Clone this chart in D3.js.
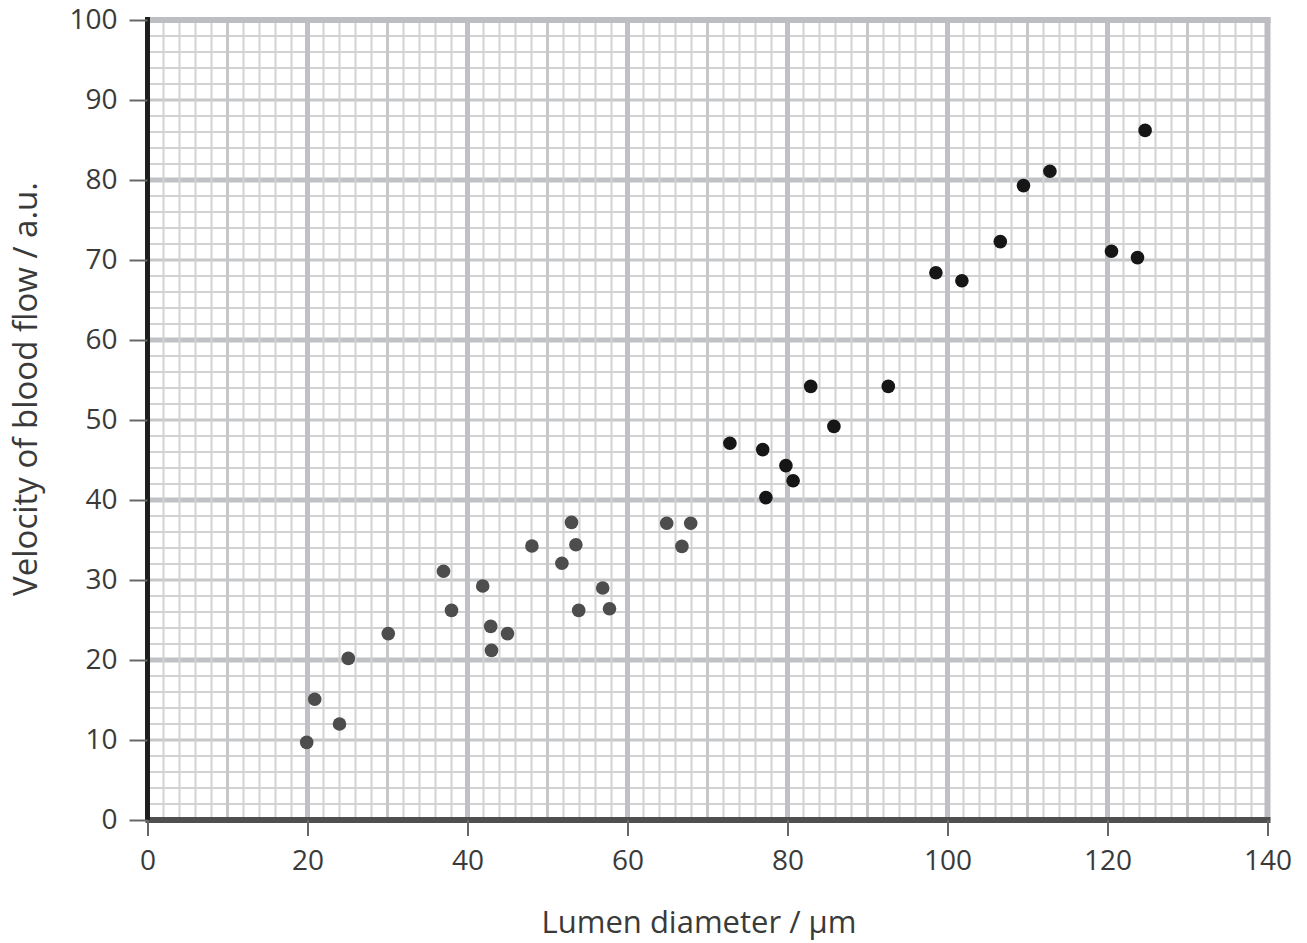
<!DOCTYPE html>
<html>
<head>
<meta charset="utf-8">
<script src="https://cdn.jsdelivr.net/npm/d3@7"></script>
<style>
  body { margin: 0; background: #fff; }
  svg { display: block; font-family: "Open Sans", "Noto Sans", sans-serif; }
</style>
</head>
<body>
<svg></svg>
<script>
// lower group (printed lighter in the original)
let diamLow = [19.9, 20.9, 24.0, 25.1, 30.1, 37.0, 38.0, 41.9, 42.9, 43.0, 45.0,
  48.05, 51.8, 53.0, 53.55, 53.9, 56.9, 57.75, 64.9, 66.8, 67.9];
let velLow = [9.7, 15.1, 12.0, 20.2, 23.3, 31.1, 26.2, 29.25, 24.2, 21.2, 23.3,
  34.25, 32.1, 37.2, 34.4, 26.2, 29.0, 26.4, 37.1, 34.2, 37.1];

// upper group
let diamHigh = [72.8, 76.9, 77.3, 79.8, 80.7, 82.9, 85.8, 92.6, 98.55, 101.8,
  106.6, 109.5, 112.8, 120.5, 123.75, 124.7];
let velHigh = [47.1, 46.3, 40.3, 44.3, 42.4, 54.2, 49.2, 54.2, 68.4, 67.4,
  72.3, 79.3, 81.1, 71.1, 70.3, 86.2];

let xTicks = [0, 20, 40, 60, 80, 100, 120, 140];
let yTicks = [0, 10, 20, 30, 40, 50, 60, 70, 80, 90, 100];

let width = 1307;
let height = 943;
let padLeft = 147.5;
let padRight = 1267.5;
let padTop = 20;
let padBottom = 820;
let font = '"Open Sans", "Noto Sans", sans-serif';

let svg = d3.select("svg").attr("width", width).attr("height", height);

let xScale = d3.scaleLinear().domain([0, 140]).range([padLeft, padRight]);
let yScale = d3.scaleLinear().domain([0, 100]).range([padBottom, padTop]);

function lineStyle(v) {
  if (v % 20 === 0) return { c: "#c0c1c4", w: 5 };
  if (v % 10 === 0) return { c: "#c6c7c9", w: 3 };
  return { c: "#d2d2d2", w: 2 };
}

function drawGrid() {
  // minor lines first so the heavy ones sit on top
  let byWeight = (a) => a.slice().sort((p, q) => lineStyle(p).w - lineStyle(q).w);
  let xs = byWeight(d3.range(2, 140, 2));
  let ys = byWeight(d3.range(2, 100, 2));

  let g = svg.append("g").attr("id", "grid");
  g.selectAll("line.h")
    .data(ys)
    .enter()
    .append("line")
    .attr("class", "h")
    .attr("x1", padLeft)
    .attr("x2", padRight)
    .attr("y1", (d) => yScale(d))
    .attr("y2", (d) => yScale(d))
    .attr("stroke", (d) => lineStyle(d).c)
    .attr("stroke-width", (d) => lineStyle(d).w);

  g.selectAll("line.v")
    .data(xs)
    .enter()
    .append("line")
    .attr("class", "v")
    .attr("x1", (d) => xScale(d))
    .attr("x2", (d) => xScale(d))
    .attr("y1", padTop)
    .attr("y2", padBottom)
    .attr("stroke", (d) => lineStyle(d).c)
    .attr("stroke-width", (d) => lineStyle(d).w);

  // frame: top and right edges
  g.append("line")
    .attr("x1", padLeft).attr("x2", xScale(140) + 3)
    .attr("y1", yScale(100)).attr("y2", yScale(100))
    .attr("stroke", "#bdbec2").attr("stroke-width", 6);
  g.append("line")
    .attr("x1", xScale(140)).attr("x2", xScale(140))
    .attr("y1", yScale(100) - 3).attr("y2", padBottom)
    .attr("stroke", "#bdbec2").attr("stroke-width", 6);
}

function drawAxes() {
  let xAxis = d3.axisBottom(xScale).tickValues(xTicks).tickSize(16).tickPadding(14).tickSizeOuter(0);
  let gx = svg.append("g")
    .attr("id", "x-axis")
    .attr("transform", `translate(0, ${padBottom})`)
    .call(xAxis)
    .attr("font-family", font)
    .attr("font-size", 28);
  gx.select(".domain").attr("stroke", "#4f4f4f").attr("stroke-width", 6)
    .attr("d", `M${padLeft - 2},0H${padRight + 3}`);
  gx.selectAll(".tick line").attr("stroke", "#666").attr("stroke-width", 2);
  gx.selectAll(".tick text").attr("fill", "#3a3a3a");

  let yAxis = d3.axisLeft(yScale).tickValues(yTicks).tickSize(18).tickPadding(12).tickSizeOuter(0);
  let gy = svg.append("g")
    .attr("id", "y-axis")
    .attr("transform", `translate(${padLeft}, 0)`)
    .call(yAxis)
    .attr("font-family", font)
    .attr("font-size", 28);
  gy.select(".domain").attr("stroke", "#1e1e1e").attr("stroke-width", 5)
    .attr("d", `M0,${padTop - 3}V${padBottom}`);
  gy.selectAll(".tick line").attr("stroke", "#666").attr("stroke-width", 2);
  gy.selectAll(".tick text").attr("fill", "#3a3a3a");

  svg.append("text")
    .attr("id", "x-axis-label")
    .attr("x", 699)
    .attr("y", 933)
    .attr("text-anchor", "middle")
    .attr("fill", "#3a3a3a")
    .style("font-size", "31px")
    .text("Lumen diameter / µm");

  svg.append("text")
    .attr("id", "y-axis-label")
    .attr("transform", "rotate(-90)")
    .attr("x", -389)
    .attr("y", 37)
    .attr("text-anchor", "middle")
    .attr("fill", "#3a3a3a")
    .style("font-size", "33px")
    .text("Velocity of blood flow / a.u.");
}

function drawPoints() {
  let low = diamLow.map((d, i) => [d, velLow[i]]);
  let high = diamHigh.map((d, i) => [d, velHigh[i]]);

  svg.append("g")
    .selectAll("circle")
    .data(low)
    .enter()
    .append("circle")
    .attr("cx", (d) => xScale(d[0]))
    .attr("cy", (d) => yScale(d[1]))
    .attr("r", 6.8)
    .attr("fill", "#4d4d4d");

  svg.append("g")
    .selectAll("circle")
    .data(high)
    .enter()
    .append("circle")
    .attr("cx", (d) => xScale(d[0]))
    .attr("cy", (d) => yScale(d[1]))
    .attr("r", 6.8)
    .attr("fill", "#161616");
}

drawGrid();
drawAxes();
drawPoints();
</script>
</body>
</html>
